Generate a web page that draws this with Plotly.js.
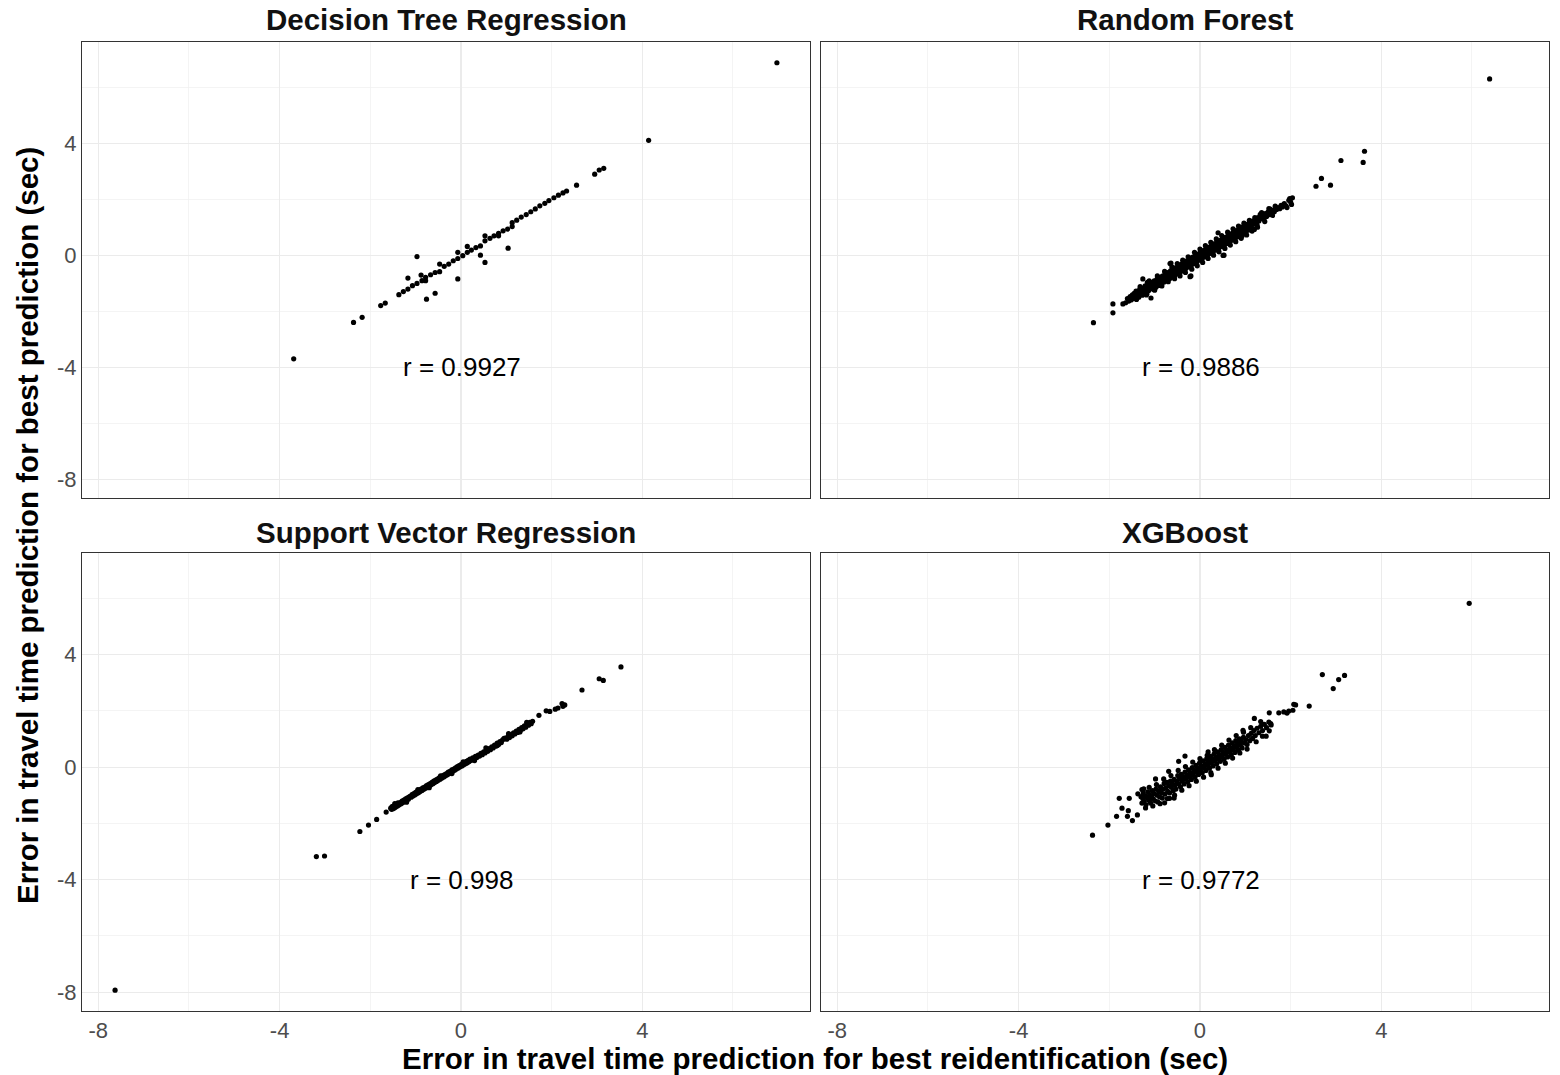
<!DOCTYPE html>
<html>
<head>
<meta charset="utf-8">
<script src="https://cdn.plot.ly/plotly-3.0.1.min.js"></script>
<style>html,body{margin:0;padding:0;background:#fff;}#chart{width:1560px;height:1075px;}</style>
</head>
<body>
<div id="chart"></div>
<script>
// ---------- DATA ----------
const panelTitles = ["Decision Tree Regression", "Random Forest", "Support Vector Regression", "XGBoost"];
const rLabels = ["r = 0.9927", "r = 0.9886", "r = 0.998", "r = 0.9772"];
const xAxisTitle = "Error in travel time prediction for best reidentification (sec)";
const yAxisTitle = "Error in travel time prediction for best prediction (sec)";
const majorTicks = [-8, -4, 0, 4];
const minorTicks = [-6, -2, 2, 6];

// Decision Tree Regression [x, y]
const dtPoints = [
  [6.97,6.87],[-3.69,-3.70],[4.14,4.10],
  [3.15,3.10],[3.05,3.04],[2.95,2.89],[2.55,2.50],[2.33,2.29],[2.25,2.22],[2.15,2.14],[2.05,2.05],
  [1.94,1.95],[1.85,1.85],[1.74,1.76],[1.64,1.65],[1.54,1.55],[1.44,1.45],[1.33,1.36],[1.23,1.25],
  [1.13,1.16],[1.13,1.02],[1.03,0.93],[0.93,0.87],[0.83,0.78],[0.83,0.69],[0.73,0.69],[0.64,0.60],
  [0.53,0.51],[0.53,0.69],[0.43,0.33],[0.43,0.00],[0.33,0.27],[0.23,0.18],[0.14,0.31],[0.14,0.10],
  [0.04,-0.02],[-0.07,0.10],[-0.07,-0.12],[-0.17,-0.20],[-0.27,-0.32],[-0.37,-0.40],[-0.47,-0.32],
  [-0.47,-0.59],[-0.57,-0.62],[-0.67,-0.70],[-0.78,-0.79],[-0.78,-0.91],[-0.88,-0.71],[-0.86,-0.91],
  [-0.97,-1.01],[-1.07,-1.09],[-1.17,-1.21],[-1.17,-0.82],[-1.27,-1.30],[-1.37,-1.41],[-0.97,-0.05],
  [-0.07,-0.85],[-0.57,-1.36],[-0.76,-1.57],[-1.67,-1.71],[-1.77,-1.80],[-2.18,-2.22],[-2.37,-2.40],
  [1.04,0.25],[0.53,-0.26]
];

// Random Forest [x, y]
const rfPoints = [
  [6.39,6.29],[3.63,3.71],[3.60,3.31],[3.11,3.38],[2.68,2.74],[2.56,2.46],[2.88,2.50],
  [-2.35,-2.41],[-1.92,-2.06],[-1.92,-1.74],[-1.70,-1.74],
  [-1.64,-1.70],[-1.60,-1.55],[-1.57,-1.64],[-1.54,-1.48],[-1.52,-1.60],[-1.49,-1.42],[-1.47,-1.55],
  [-1.45,-1.36],[-1.43,-1.49],[-1.41,-1.28],[-1.39,-1.44],[-1.37,-1.33],[-1.35,-1.50],[-1.33,-1.22],
  [-1.31,-1.38],[-1.29,-1.27],[-1.27,-1.43],[-1.26,-0.85],[-1.25,-1.18],[-1.23,-1.32],[-1.21,-1.10],
  [-1.19,-1.24],[-1.17,-1.38],[-1.16,-0.97],[-1.15,-1.15],[-1.13,-1.26],[-1.11,-1.04],[-1.09,-1.18],
  [-1.08,-1.53],[-1.07,-0.98],[-1.05,-1.10],[-1.03,-1.22],[-1.01,-0.92],[-0.99,-1.05],[-0.97,-1.15],
  [-0.95,-0.86],[-0.93,-0.98],[-0.91,-1.08],[-0.89,-0.80],[-0.87,-0.92],[-0.85,-1.02],[-0.83,-0.75],
  [-0.81,-0.86],[-0.79,-0.96],[-0.77,-0.68],[-0.75,-0.80],[-0.73,-0.90],[-0.71,-0.62],[-0.69,-0.74],
  [-0.67,-0.84],[-0.66,-0.30],[-0.65,-0.56],[-0.64,-0.28],[-0.63,-0.68],[-0.61,-0.78],[-0.59,-0.50],
  [-0.57,-0.62],[-0.55,-0.72],[-0.53,-0.44],[-0.51,-0.56],[-0.49,-0.66],[-0.47,-0.38],[-0.45,-0.50],
  [-0.43,-0.60],[-0.41,-0.32],[-0.39,-0.44],[-0.37,-0.54],[-0.35,-0.26],[-0.33,-0.38],[-0.31,-0.48],
  [-0.29,-0.20],[-0.27,-0.32],[-0.25,-0.42],[-0.23,-0.14],[-0.22,-0.77],[-0.21,-0.26],[-0.20,-0.74],
  [-0.19,-0.36],[-0.17,-0.08],[-0.15,-0.20],[-0.13,-0.30],[-0.11,-0.02],[-0.09,-0.14],[-0.07,-0.24],
  [-0.05,0.04],[-0.03,-0.08],[-0.01,-0.18],[0.01,0.10],[0.03,-0.02],[0.05,-0.12],[0.07,0.16],
  [0.09,0.04],[0.11,-0.06],[0.13,0.22],[0.15,0.10],[0.17,0.00],[0.19,0.28],[0.21,0.16],[0.23,0.06],
  [0.25,0.34],[0.27,0.22],[0.29,0.12],[0.31,0.40],[0.33,0.28],[0.35,0.18],[0.37,0.46],[0.39,0.34],
  [0.40,0.80],[0.41,0.24],[0.43,0.52],[0.45,0.40],[0.47,0.30],[0.49,0.58],[0.51,-0.01],[0.52,0.46],
  [0.53,0.00],[0.54,0.36],[0.56,0.64],[0.58,0.52],[0.60,0.42],[0.62,0.70],[0.64,0.58],[0.66,0.48],
  [0.68,0.76],[0.70,0.64],[0.72,0.54],[0.74,0.82],[0.76,0.70],[0.78,0.60],[0.80,0.88],[0.82,0.76],
  [0.84,0.66],[0.86,0.94],[0.88,0.82],[0.90,0.72],[0.92,1.00],[0.93,0.69],[0.94,0.88],[0.96,0.78],
  [0.98,1.04],[1.00,0.92],[1.02,0.84],[1.04,1.10],[1.06,0.98],[1.08,0.90],[1.10,1.16],[1.12,1.04],
  [1.14,0.96],[1.16,1.22],[1.18,1.10],[1.20,0.92],[1.22,1.28],[1.24,1.16],[1.26,1.08],[1.28,1.34],
  [1.30,1.22],[1.33,1.46],[1.35,1.30],[1.38,1.40],[1.41,1.28],[1.44,1.48],[1.47,1.38],[1.50,1.54],
  [1.53,1.45],[1.55,1.64],[1.58,1.52],[1.61,1.60],[1.64,1.55],[1.66,1.75],[1.69,1.63],[1.72,1.70],
  [1.76,1.66],[1.79,1.78],[1.82,1.72],[1.86,1.84],[1.90,1.76],[1.92,1.70],[1.96,1.96],[1.98,2.02],
  [2.00,1.90],[2.02,1.81],[2.04,2.05],
  [-1.40,-1.58],[-1.32,-1.12],[-1.18,-1.42],[-1.12,-0.92],[-1.00,-1.25],[-0.94,-0.74],[-0.84,-1.10],
  [-0.78,-0.58],[-0.70,-0.95],[-0.62,-0.42],[-0.56,-0.84],[-0.50,-0.30],[-0.44,-0.74],[-0.38,-0.18],
  [-0.32,-0.62],[-0.26,-0.06],[-0.18,-0.50],[-0.12,0.10],[-0.06,-0.38],[0.00,0.22],[0.06,-0.26],
  [0.12,0.34],[0.18,-0.12],[0.24,0.46],[0.30,0.00],[0.36,0.58],[0.42,0.12],[0.48,0.70],[0.55,0.24],
  [0.61,0.82],[0.67,0.36],[0.73,0.94],[0.79,0.48],[0.85,1.04],[0.91,0.60],[0.97,1.14],[1.03,0.72],
  [1.09,1.24],[1.15,0.86],[1.21,1.34],[1.27,1.00],[1.36,1.52],[1.43,1.20],[1.52,1.66],[1.60,1.42]
];

// Support Vector Regression [x, y]
const svPoints = [
  [-7.63,-7.93],[-3.19,-3.18],[-3.01,-3.16],
  [-2.23,-2.29],[-2.04,-2.06],[-1.86,-1.86],[-1.65,-1.60],
  [1.72,1.84],[1.88,2.00],[1.96,1.98],[2.08,2.06],[2.14,2.10],[2.23,2.26],[2.25,2.16],[2.29,2.21],
  [2.67,2.74],[3.05,3.14],[3.14,3.08],[3.53,3.56],
  [-1.55,-1.46],[-1.53,-1.50],[-1.52,-1.40],[-1.50,-1.48],[-1.49,-1.39],[-1.47,-1.45],[-1.45,-1.35],
  [-1.44,-1.42],[-1.42,-1.32],[-1.40,-1.38],[-1.39,-1.27],[-1.36,-1.34],[-1.34,-1.26],[-1.32,-1.30],
  [-1.30,-1.21],[-1.28,-1.26],[-1.26,-1.17],[-1.24,-1.22],[-1.22,-1.13],[-1.20,-1.18],[-1.18,-1.09],
  [-1.16,-1.14],[-1.14,-1.06],[-1.12,-1.04],[-1.10,-1.07],[-1.08,-0.98],[-1.06,-1.03],[-1.04,-0.94],
  [-1.02,-0.99],[-1.00,-0.90],[-0.98,-0.95],[-0.96,-0.86],[-0.94,-0.91],[-0.92,-0.82],[-0.90,-0.87],
  [-0.88,-0.78],[-0.86,-0.83],[-0.84,-0.74],[-0.82,-0.79],[-0.80,-0.71],[-0.78,-0.75],[-0.76,-0.66],
  [-0.74,-0.71],[-0.72,-0.62],[-0.70,-0.67],[-0.68,-0.59],[-0.66,-0.63],[-0.64,-0.54],[-0.62,-0.59],
  [-0.60,-0.50],[-0.58,-0.55],[-0.56,-0.46],[-0.54,-0.51],[-0.52,-0.43],[-0.50,-0.47],[-0.48,-0.38],
  [-0.46,-0.43],[-0.44,-0.35],[-0.42,-0.39],[-0.40,-0.30],[-0.38,-0.35],[-0.36,-0.27],[-0.34,-0.31],
  [-0.32,-0.23],[-0.30,-0.27],[-0.28,-0.18],[-0.26,-0.23],[-0.24,-0.15],[-0.22,-0.19],[-0.20,-0.10],
  [-0.18,-0.15],[-0.16,-0.07],[-0.14,-0.11],[-0.12,-0.03],[-0.10,-0.07],[-0.08,0.02],[-0.06,-0.03],
  [-0.04,0.05],[-0.02,0.01],[0.00,0.09],[0.02,0.04],[0.04,0.13],[0.06,0.08],[0.08,0.16],[0.10,0.12],
  [0.12,0.20],[0.14,0.15],[0.16,0.24],[0.18,0.19],[0.20,0.28],[0.23,0.24],[0.26,0.33],[0.29,0.29],
  [0.32,0.38],[0.35,0.34],[0.38,0.43],[0.41,0.39],[0.44,0.49],[0.47,0.44],[0.50,0.54],[0.53,0.50],
  [0.56,0.61],[0.59,0.56],[0.62,0.66],[0.65,0.62],[0.68,0.72],[0.71,0.68],[0.74,0.78],[0.77,0.74],
  [0.80,0.85],[0.83,0.80],[0.86,0.91],[0.89,0.87],[0.92,0.97],[0.95,1.02],[0.98,1.03],[1.01,0.99],
  [1.04,1.09],[1.07,1.05],[1.10,1.15],[1.13,1.11],[1.16,1.22],[1.19,1.18],[1.22,1.28],[1.25,1.23],
  [1.28,1.34],[1.31,1.30],[1.34,1.40],[1.37,1.36],[1.40,1.47],[1.43,1.42],[1.46,1.53],[1.49,1.49],
  [1.52,1.59],[1.55,1.54],[1.58,1.63],
  [-1.46,-1.30],[-1.20,-1.25],[-0.95,-0.80],[-0.70,-0.73],[-0.45,-0.31],[-0.20,-0.23],[0.05,0.19],
  [0.30,0.23],[0.55,0.68],[0.80,0.77],[1.05,1.19],[1.30,1.25],[1.45,1.59]
];

// XGBoost [x, y]
const xgPoints = [
  [5.94,5.82],[2.70,3.29],[3.19,3.26],[3.06,3.11],[2.94,2.79],[2.41,2.17],[2.11,2.21],
  [-2.37,-2.42],[-2.03,-2.06],
  [-1.84,-1.75],[-1.78,-1.11],[-1.72,-1.46],[-1.60,-1.75],[-1.56,-1.11],[-1.58,-1.55],[-1.49,-1.90],
  [-1.38,-1.70],[-1.37,-0.95],[-1.24,-0.77],[-0.98,-0.42],[-0.69,-0.15],[-0.86,-0.75],[-0.47,0.20],
  [-0.33,0.39],[-0.57,-1.10],[-0.78,-1.27],[-0.67,-1.11],[0.18,0.54],[0.25,-0.27],[0.95,1.31],
  [1.20,1.73],[1.38,1.10],[1.53,1.29],[1.56,1.55],
  [-1.30,-1.05],[-1.28,-1.28],[-1.26,-1.12],[-1.25,-0.92],[-1.23,-1.22],[-1.21,-1.02],[-1.19,-1.34],
  [-1.17,-1.08],[-1.15,-0.88],[-1.13,-1.18],[-1.11,-0.98],[-1.09,-1.28],[-1.07,-1.06],[-1.05,-0.84],
  [-1.03,-1.14],[-1.01,-0.94],[-0.99,-1.20],[-0.97,-0.78],[-0.95,-1.00],[-0.93,-1.24],[-0.91,-0.86],
  [-0.89,-1.06],[-0.87,-0.70],[-0.85,-0.92],[-0.83,-1.10],[-0.81,-0.78],[-0.79,-0.58],[-0.77,-0.96],
  [-0.75,-0.74],[-0.73,-0.54],[-0.71,-0.86],[-0.69,-0.66],[-0.67,-0.92],[-0.65,-0.50],[-0.63,-0.72],
  [-0.61,-0.58],[-0.59,-0.84],[-0.57,-0.44],[-0.55,-0.64],[-0.53,-0.78],[-0.51,-0.50],[-0.49,-0.30],
  [-0.47,-0.60],[-0.45,-0.42],[-0.43,-0.70],[-0.41,-0.26],[-0.39,-0.50],[-0.37,-0.36],[-0.35,-0.60],
  [-0.33,-0.18],[-0.31,-0.42],[-0.29,-0.28],[-0.27,-0.52],[-0.25,-0.10],[-0.23,-0.34],[-0.21,-0.20],
  [-0.19,-0.44],[-0.17,-0.02],[-0.15,-0.26],[-0.13,-0.12],[-0.11,-0.36],[-0.09,0.06],[-0.07,-0.18],
  [-0.05,-0.04],[-0.03,-0.26],[-0.01,0.14],[0.01,-0.10],[0.03,0.04],[0.05,-0.20],[0.07,0.22],
  [0.09,-0.02],[0.11,0.12],[0.13,-0.12],[0.15,0.30],[0.17,0.06],[0.19,0.20],[0.21,-0.04],[0.23,0.38],
  [0.25,0.14],[0.27,0.28],[0.29,0.04],[0.31,0.46],[0.33,0.22],[0.35,0.36],[0.37,0.12],[0.39,0.54],
  [0.41,0.30],[0.43,0.44],[0.45,0.20],[0.47,0.62],[0.49,0.38],[0.51,0.52],[0.53,0.28],[0.55,0.70],
  [0.57,0.46],[0.59,0.60],[0.61,0.36],[0.63,0.78],[0.65,0.54],[0.67,0.68],[0.69,0.44],[0.71,0.86],
  [0.73,0.62],[0.75,0.76],[0.77,0.52],[0.79,0.94],[0.81,0.70],[0.83,0.84],[0.85,0.60],[0.87,1.00],
  [0.89,0.78],[0.91,0.92],[0.93,0.68],[0.96,1.06],[0.98,0.86],[1.01,0.98],[1.04,0.80],[1.07,1.12],
  [1.10,0.94],[1.13,1.20],[1.16,1.02],[1.19,1.30],[1.22,1.12],[1.26,1.38],[1.30,1.22],[1.34,1.45],
  [1.38,1.30],[1.42,1.52],[1.47,1.40],[1.52,1.60],[1.57,1.50],
  [1.53,1.93],[1.74,1.93],[1.85,1.96],[1.92,1.92],[1.96,1.99],[2.05,2.02],[2.07,2.23],
  [-1.28,-0.80],[-1.20,-1.45],[-1.12,-0.72],[-1.04,-1.38],[-0.96,-0.62],[-0.88,-1.30],[-0.80,-0.42],
  [-0.72,-1.12],[-0.64,-0.30],[-0.56,-1.00],[-0.48,-0.12],[-0.40,-0.82],[-0.32,0.02],[-0.24,-0.66],
  [-0.16,0.18],[-0.08,-0.50],[0.00,0.30],[0.08,-0.36],[0.16,0.42],[0.24,-0.20],[0.32,0.62],
  [0.40,-0.04],[0.48,0.78],[0.56,0.14],[0.64,0.96],[0.72,0.32],[0.80,1.12],[0.88,0.50],[0.96,1.24],
  [1.04,0.64],[1.12,1.40],[1.24,0.90],[1.34,1.62],[1.46,1.10]
];

// ---------- CHART ----------
const FONT = "Liberation Sans, Arial, Helvetica, sans-serif";
const allPoints = [dtPoints, rfPoints, svPoints, xgPoints];
const axSuffix = ["", "2", "3", "4"];

const traces = allPoints.map((pts, i) => ({
  type: "scatter",
  mode: "markers",
  x: pts.map(p => p[0]),
  y: pts.map(p => p[1]),
  xaxis: "x" + axSuffix[i],
  yaxis: "y" + axSuffix[i],
  marker: {color: "#000000", size: 5.2, line: {width: 0}},
  hoverinfo: "x+y",
  showlegend: false
}));

const W = 1560, H = 1075;
const xDomL = [82 / W, 810 / W];
const xDomR = [821 / W, 1549 / W];
const yDomT = [1 - 498 / H, 1 - 42 / H];
const yDomB = [1 - 1011 / H, 1 - 553 / H];

function axis(domain, showLabels, anchor, isX) {
  return {
    domain: domain,
    anchor: anchor,
    range: isX ? [-8.36, 7.70] : [-8.67, 7.61],
    tickmode: "array",
    tickvals: majorTicks,
    ticktext: majorTicks.map(String),
    showticklabels: showLabels,
    ticks: "",
    showgrid: true,
    gridcolor: "#ebebeb",
    gridwidth: 1.1,
    minor: {tickmode: "array", tickvals: minorTicks, showgrid: true, gridcolor: "#f0f0f0", gridwidth: 0.7, ticks: ""},
    zeroline: false,
    showline: true,
    mirror: true,
    linecolor: "#333333",
    linewidth: 1,
    tickfont: {family: FONT, size: 22, color: "#4d4d4d"},
    fixedrange: true
  };
}

const layout = {
  width: W, height: H,
  margin: {l: 0, r: 0, t: 0, b: 0},
  paper_bgcolor: "#ffffff",
  plot_bgcolor: "#ffffff",
  showlegend: false,
  font: {family: FONT},
  xaxis:  axis(xDomL, false, "y", true),
  yaxis:  axis(yDomT, true, "x", false),
  xaxis2: axis(xDomR, false, "y2", true),
  yaxis2: axis(yDomT, false, "x2", false),
  xaxis3: axis(xDomL, true, "y3", true),
  yaxis3: axis(yDomB, true, "x3", false),
  xaxis4: axis(xDomR, true, "y4", true),
  yaxis4: axis(yDomB, false, "x4", false),
  annotations: []
};

const titlePos = [[446, 20], [1185, 20], [446, 532], [1185, 532]];
panelTitles.forEach((t, i) => {
  layout.annotations.push({
    text: t, xref: "paper", yref: "paper",
    x: titlePos[i][0] / W, y: 1 - titlePos[i][1] / H,
    xanchor: "center", yanchor: "middle", showarrow: false,
    font: {family: FONT, size: 29.5, color: "#111111", weight: "bold"}
  });
});
rLabels.forEach((t, i) => {
  layout.annotations.push({
    text: t, xref: "x" + axSuffix[i], yref: "y" + axSuffix[i],
    x: 0.02, y: -4, xanchor: "center", yanchor: "middle", showarrow: false,
    font: {family: FONT, size: 26, color: "#000000"}
  });
});
layout.annotations.push({
  text: xAxisTitle, xref: "paper", yref: "paper",
  x: 815 / W, y: 1 - 1058 / H, xanchor: "center", yanchor: "middle", showarrow: false,
  font: {family: FONT, size: 29.5, color: "#000000", weight: "bold"}
});
layout.annotations.push({
  text: yAxisTitle, xref: "paper", yref: "paper",
  x: 27 / W, y: 1 - 526 / H, xanchor: "center", yanchor: "middle", showarrow: false,
  textangle: -90,
  font: {family: FONT, size: 29.5, color: "#000000", weight: "bold"}
});

Plotly.newPlot("chart", traces, layout, {displayModeBar: false, staticPlot: true});
</script>
</body>
</html>
